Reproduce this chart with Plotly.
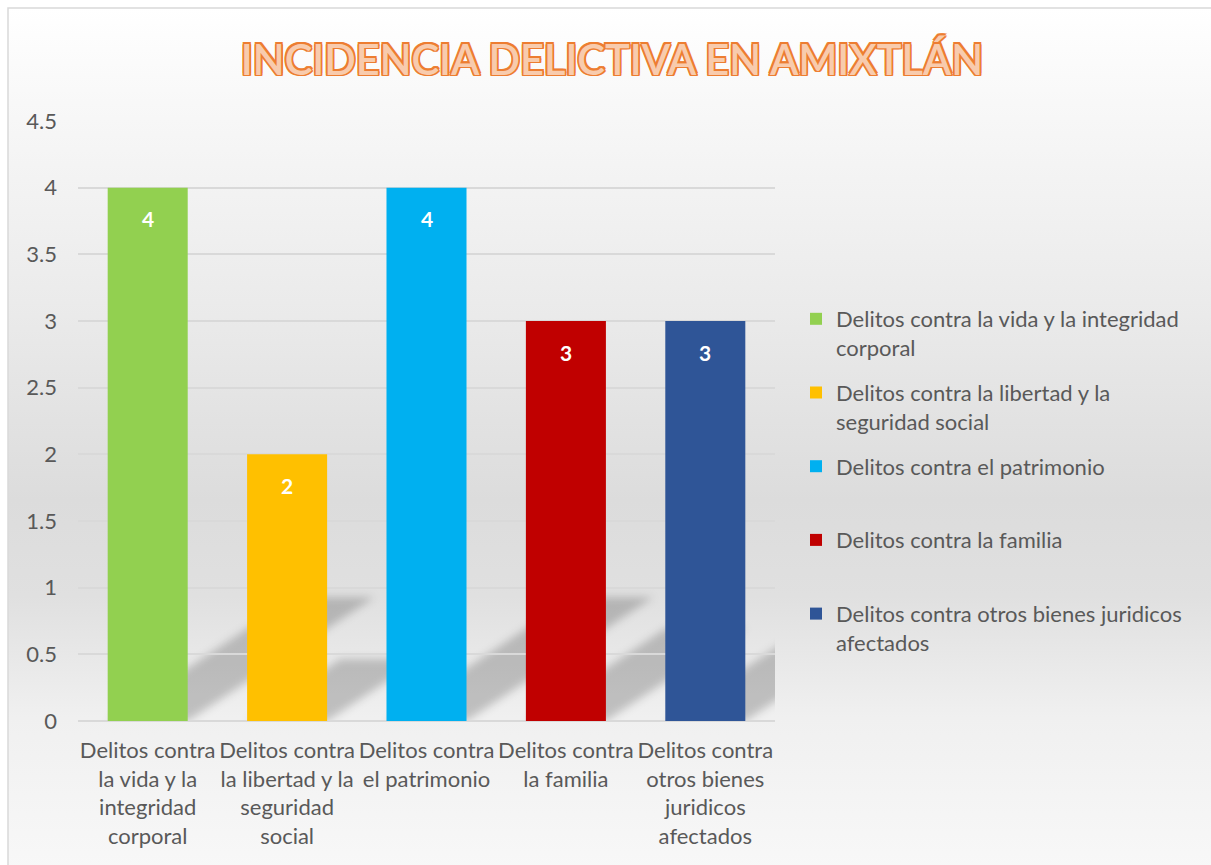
import base64
import plotly.graph_objects as go

# ---- data ----
categories = [
    "Delitos contra la vida y la integridad corporal",
    "Delitos contra la libertad y la seguridad social",
    "Delitos contra el patrimonio",
    "Delitos contra la familia",
    "Delitos contra otros bienes juridicos afectados",
]
values = [4, 2, 4, 3, 3]
tick_labels = [
    "Delitos contra<br>la vida y la<br>integridad<br>corporal",
    "Delitos contra<br>la libertad y la<br>seguridad<br>social",
    "Delitos contra<br>el patrimonio",
    "Delitos contra<br>la familia",
    "Delitos contra<br>otros bienes<br>juridicos<br>afectados",
]
legend_labels = [
    "Delitos contra la vida y la integridad<br>corporal",
    "Delitos contra la libertad y la<br>seguridad social",
    "Delitos contra el patrimonio<br>\u00a0",
    "Delitos contra la familia<br>\u00a0",
    "Delitos contra otros bienes juridicos<br>afectados",
]
colors = ["#92D050", "#FFC000", "#00B0F0", "#C00000", "#2F5597"]

# ---- layout constants ----
W, H = 1211, 865
PLOT_L, PLOT_R, PLOT_T, PLOT_B = 78, 775, 121, 721
Y_MAX = 4.5
BARGAP = 0.426
FONT = "Lato, 'Open Sans', sans-serif"
TEXT_COLOR = "#595959"
GRID = "#d9d9d9"

px_per_cat = (PLOT_R - PLOT_L) / len(categories)
px_per_val = (PLOT_B - PLOT_T) / Y_MAX


def svg_uri(svg):
    return "data:image/svg+xml;base64," + base64.b64encode(svg.encode()).decode()


# background gradient for the chart area
bg_svg = (
    '<svg xmlns="http://www.w3.org/2000/svg" width="1000" height="1000" '
    'viewBox="0 0 1000 1000" preserveAspectRatio="none">'
    '<defs><linearGradient id="g" x1="0" y1="0" x2="0" y2="1">'
    '<stop offset="0" stop-color="#ffffff"/>'
    '<stop offset="0.11" stop-color="#f8f8f8"/>'
    '<stop offset="0.34" stop-color="#ebebeb"/>'
    '<stop offset="0.57" stop-color="#dcdcdc"/>'
    '<stop offset="0.68" stop-color="#e0e0e0"/>'
    '<stop offset="0.82" stop-color="#f0f0f0"/>'
    '<stop offset="1" stop-color="#f8f8f8"/>'
    '</linearGradient></defs>'
    '<rect x="0" y="0" width="1000" height="1000" fill="url(#g)"/></svg>'
)

images = [dict(
    source=svg_uri(bg_svg), xref="paper", yref="paper",
    x=8 / W, y=1 - 8 / H, sizex=1, sizey=1,
    xanchor="left", yanchor="top", sizing="stretch", layer="below",
)]

# soft cast shadows behind each bar, length proportional to its value
bar_w = 1 - BARGAP
SHADOW_DX = 0.335   # category units per value unit
SHADOW_DY = 0.232   # value units per value unit
pad_x, pad_y = 0.15, 0.15
for i, v in enumerate(values):
    xl, xr = i - bar_w / 2, i + bar_w / 2
    dx, dy = v * SHADOW_DX, v * SHADOW_DY
    x0, x1 = xl - pad_x, xr + dx + pad_x
    y0, y1 = 0.0, dy + pad_y
    sw = (x1 - x0) * px_per_cat
    sh = (y1 - y0) * px_per_val

    def P(x, y):
        return f"{(x - x0) * px_per_cat:.1f},{(y1 - y) * px_per_val:.1f}"

    pts = " ".join([P(xl, 0), P(xr, 0), P(xr + dx, dy), P(xl + dx, dy)])
    shadow_svg = (
        f'<svg xmlns="http://www.w3.org/2000/svg" width="{sw:.1f}" height="{sh:.1f}" '
        f'viewBox="0 0 {sw:.1f} {sh:.1f}" preserveAspectRatio="none">'
        '<defs><filter id="b" x="-50%" y="-50%" width="200%" height="200%">'
        '<feGaussianBlur stdDeviation="4.5"/></filter></defs>'
        f'<polygon points="{pts}" fill="#000000" fill-opacity="0.2" filter="url(#b)"/></svg>'
    )
    images.append(dict(
        source=svg_uri(shadow_svg), xref="x", yref="y",
        x=x0, y=y1, sizex=x1 - x0, sizey=y1 - y0,
        xanchor="left", yanchor="top", sizing="stretch", layer="below",
    ))

fig = go.Figure()
for i, (cat, v) in enumerate(zip(categories, values)):
    fig.add_trace(go.Bar(
        x=[i], y=[v], name=legend_labels[i], marker_color=colors[i],
        marker_line_width=0, legendgroup=f"g{i}",
        hoverinfo="skip",
    ))

# value labels inside the top of each bar
annotations = [
    dict(x=i, y=v, xref="x", yref="y", text=f"<b>{v}</b>", showarrow=False,
         yshift=-31, font=dict(family=FONT, size=21, color="white"))
    for i, v in enumerate(values)
]

outline = "#ED7D31"
o = 1.6
title_shadow = ", ".join(
    f"{a}px {b}px 0 {outline}"
    for a, b in [(-o, -o), (o, -o), (-o, o), (o, o), (0, o), (0, -o), (o, 0), (-o, 0)]
)

fig.update_layout(
    width=W, height=H,
    margin=dict(l=0, r=0, t=0, b=0),
    paper_bgcolor="white",
    plot_bgcolor="rgba(0,0,0,0)",
    barmode="overlay",
    bargap=BARGAP,
    images=images,
    annotations=annotations,
    title=dict(
        text="INCIDENCIA DELICTIVA EN AMIXTLÁN",
        x=612 / W, y=1 - 60 / H, xref="container", yref="container",
        xanchor="center", yanchor="middle",
        font=dict(family=FONT, size=41.5, color="#F8CBAD", weight=600,
                  shadow=title_shadow),
    ),
    xaxis=dict(
        domain=[PLOT_L / W, PLOT_R / W],
        range=[-0.5, len(categories) - 0.5],
        tickmode="array", tickvals=list(range(len(categories))),
        ticktext=tick_labels,
        tickfont=dict(family=FONT, size=22, color=TEXT_COLOR),
        showgrid=False, zeroline=False, showline=False,
        ticks="", ticklabelstandoff=14, automargin=False, fixedrange=True,
    ),
    yaxis=dict(
        domain=[1 - PLOT_B / H, 1 - PLOT_T / H],
        range=[0, Y_MAX], dtick=0.5, tick0=0,
        tickfont=dict(family=FONT, size=22, color=TEXT_COLOR),
        showgrid=True, gridcolor=GRID, gridwidth=1.5,
        zeroline=True, zerolinecolor=GRID, zerolinewidth=1.8,
        showline=False, ticks="", ticklabelstandoff=20,
        automargin=False, fixedrange=True,
    ),
    legend=dict(
        x=796 / W, y=1 - 298 / H, xanchor="left", yanchor="top",
        bgcolor="rgba(0,0,0,0)", tracegroupgap=13.5, valign="top",
        font=dict(family=FONT, size=22, color=TEXT_COLOR),
    ),
    shapes=[dict(
        type="rect", xref="paper", yref="paper",
        x0=8 / W, y0=-0.05, x1=1.05, y1=1 - 8 / H,
        line=dict(color=GRID, width=1.5), fillcolor="rgba(0,0,0,0)", layer="above",
    )],
    showlegend=True,
)

fig.write_html("out.html")
